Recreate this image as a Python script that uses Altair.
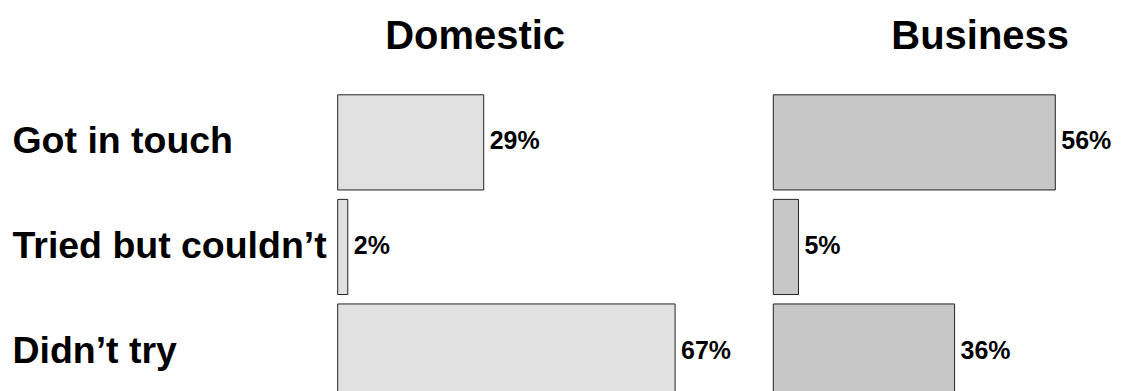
import altair as alt
import pandas as pd

categories = ["Got in touch", "Tried but couldn\u2019t", "Didn\u2019t try"]
domestic = [29, 2, 67]
business = [56, 5, 36]
panels = ["Domestic", "Business"]

FONT = "Liberation Sans"
PX_PER_PCT = 5.04


def make_df(vals):
    return pd.DataFrame({
        "cat": categories,
        "value": vals,
        "label": [f"{v}%" for v in vals],
    })


def panel(vals, title, fill, width, title_dx, show_axis):
    df = make_df(vals)
    if show_axis:
        yaxis = alt.Axis(
            title=None, ticks=False, tickSize=0, domain=False, grid=False,
            labelFont=FONT, labelFontSize=37.5, labelFontWeight="bold",
            labelColor="#000000", labelAlign="left", labelBaseline="middle",
            labelPadding=326, labelLimit=1000,
        )
    else:
        yaxis = None
    y = alt.Y("cat:N", sort=categories,
              scale=alt.Scale(paddingInner=0.09, paddingOuter=0.045),
              axis=yaxis)
    x = alt.X("value:Q",
              scale=alt.Scale(domain=[0, width / PX_PER_PCT], nice=False, zero=True),
              axis=None)
    base = alt.Chart(df).encode(y=y, x=x)
    bars = base.mark_bar(fill=fill, stroke="#222222", strokeWidth=1, opacity=1)
    text = base.mark_text(
        align="left", baseline="middle", dx=6, dy=-1, font=FONT, fontSize=25,
        fontWeight="bold", color="#000000",
    ).encode(text="label:N")
    return alt.layer(bars, text).properties(
        width=width,
        height=314,
        title=alt.TitleParams(
            title, font=FONT, fontSize=40, fontWeight="bold", color="#000000",
            anchor="middle", dx=title_dx, offset=33,
        ),
    )


left = panel(domestic, panels[0], "#e1e1e1", 435, -80, True)
right = panel(business, panels[1], "#c7c7c7", 350, 32, False)

chart = alt.hconcat(left, right, spacing=0).properties(
    padding={"left": 12, "top": 17, "right": 0, "bottom": 0},
    background="#ffffff",
).configure_view(stroke=None)

chart.save("out.html", embed_options={"renderer": "svg", "actions": False})
